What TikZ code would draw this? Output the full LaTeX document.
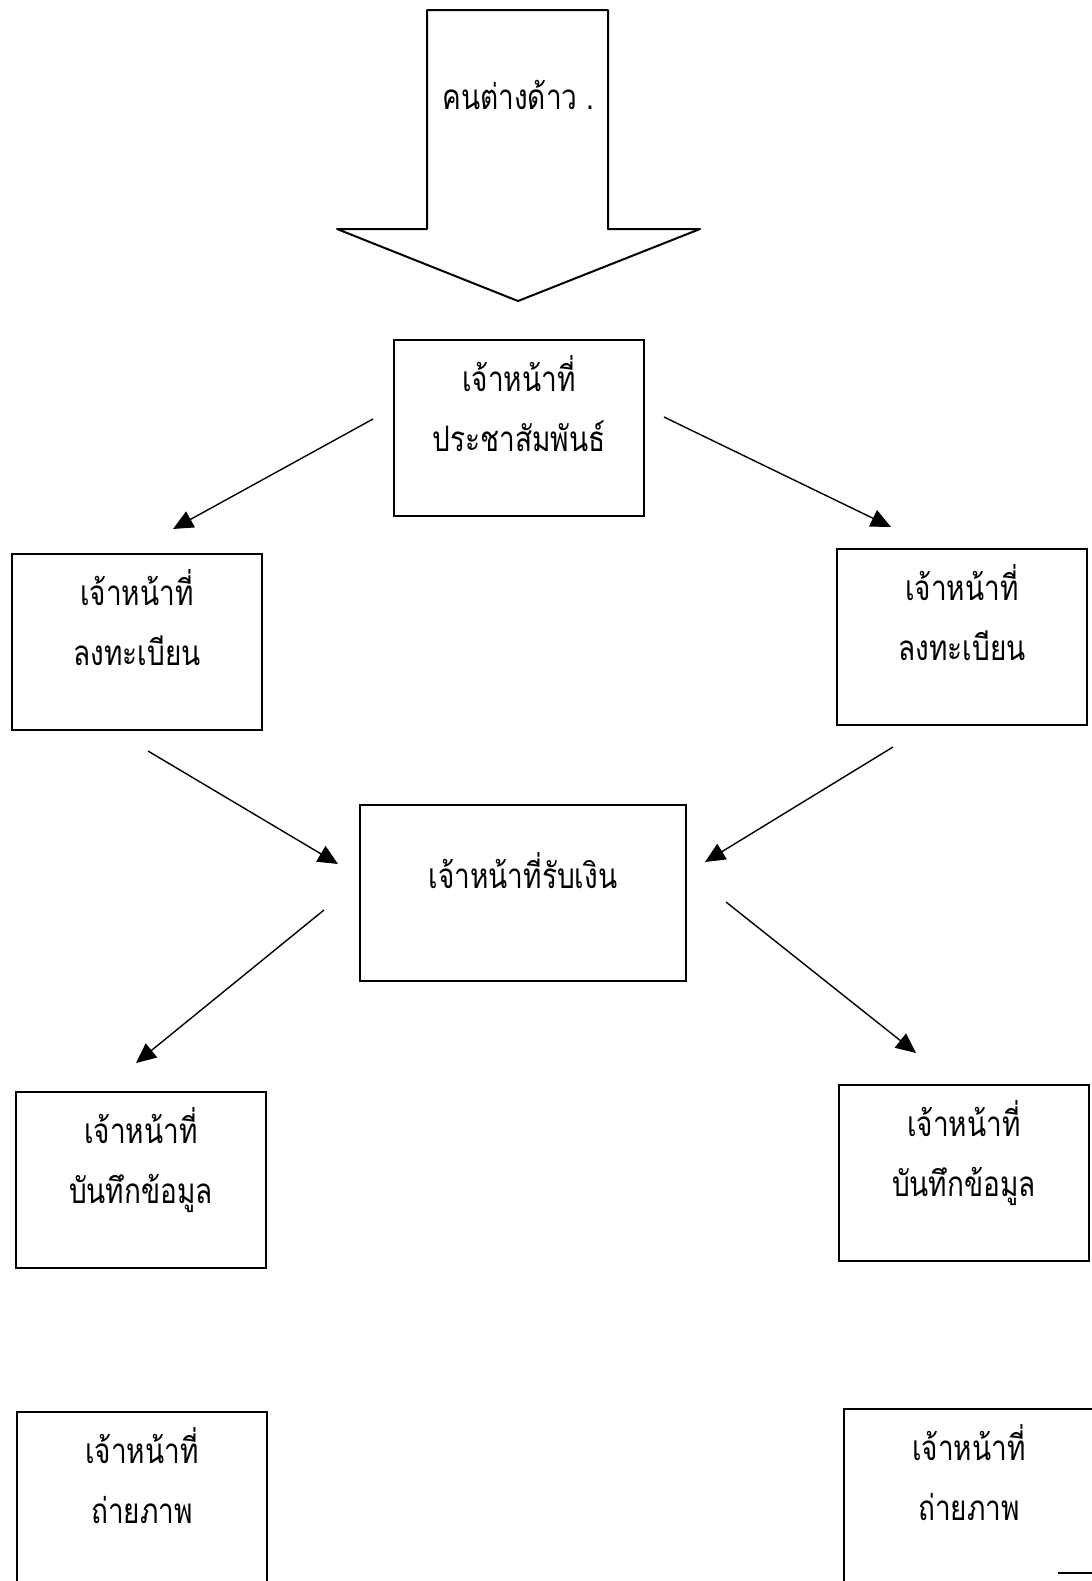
\documentclass[tikz,border=0pt]{standalone}
\usepackage{fontspec}
\newfontfamily\thaifont[Script=Thai,FakeStretch=0.8]{Loma}
\usetikzlibrary{arrows.meta}

\begin{document}
\begin{tikzpicture}[x=0.5pt, y=-0.5pt,
every edge/.style = {draw=black, line width=0.7pt,
      -{Triangle[length=10pt,width=9pt]}},
 box/.style = {rectangle, draw, line width=1pt,
      minimum width=125pt, minimum height=88pt},
 txt/.style = {anchor=north, yshift=#1, inner sep=0pt,
      align=center, font=\thaifont\fontsize{17.5}{30}\selectfont}
                    ]
\useasboundingbox (0,0) rectangle (1092,1581);
% big arrow at the top
\draw[line width=1pt, line join=round]
      (427,10) -- (608,10) -- (608,229) -- (700,229) -- (518,301)
      -- (337,229) -- (427,229) -- cycle;
\node (alien) [anchor=base west, inner sep=0pt,
      font=\thaifont\fontsize{17.5}{30}\selectfont] at (442,109) {คนต่างด้าว .};
 %
\node (pr)   [box, label={[txt=-8pt]north:{เจ้าหน้าที่\\ประชาสัมพันธ์}}] at (519,428) {};
\node (reg1) [box, label={[txt=-8pt]north:{เจ้าหน้าที่\\ลงทะเบียน}}]    at (137,642) {};
\node (reg2) [box, label={[txt=-8pt]north:{เจ้าหน้าที่\\ลงทะเบียน}}]    at (962,637) {};
\node (cash) [box, minimum width=163pt,
      label={[txt=-24pt]north:{เจ้าหน้าที่รับเงิน}}]                     at (523,893) {};
\node (rec1) [box, label={[txt=-8pt]north:{เจ้าหน้าที่\\บันทึกข้อมูล}}]  at (141,1180) {};
\node (rec2) [box, label={[txt=-8pt]north:{เจ้าหน้าที่\\บันทึกข้อมูล}}]  at (964,1173) {};
\node (pho1) [box, label={[txt=-8pt]north:{เจ้าหน้าที่\\ถ่ายภาพ}}]      at (142,1500) {};
\node (pho2) [box, label={[txt=-8pt]north:{เจ้าหน้าที่\\ถ่ายภาพ}}]      at (969,1497) {};
 %
\path   ([shift={(-20,-9)}]pr.west)    edge ([shift={(36,-24)}]reg1.north)
        ([shift={(19,-11)}]pr.east)    edge ([shift={(-71,-21)}]reg2.north)
        ([shift={(11,20)}]reg1.south)  edge ([shift={(-21,-29)}]cash.west)
        ([shift={(-69,21)}]reg2.south) edge ([shift={(18,-31)}]cash.east)
        ([shift={(-35,17)}]cash.west)  edge ([shift={(-5,-28)}]rec1.north)
        ([shift={(39,9)}]cash.east)    edge ([shift={(-48,-31)}]rec2.north);
\draw[line width=1pt] (1058,1573) -- (1092,1573);
\end{tikzpicture}
\end{document}
